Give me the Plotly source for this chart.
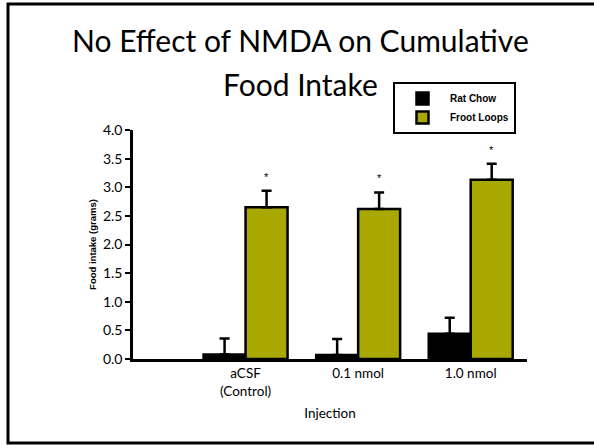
import plotly.graph_objects as go

# Data: cumulative food intake (grams), mean and SEM per injection condition
groups = ["aCSF<br>(Control)", "0.1 nmol", "1.0 nmol"]
group_pos = [1, 2, 3]
rat_chow = [0.08, 0.07, 0.44]
rat_chow_sem = [0.28, 0.28, 0.28]
froot_loops = [2.65, 2.62, 3.13]
froot_loops_sem = [0.29, 0.29, 0.28]
significant = ["*", "*", "*"]

title_lines = ["No Effect of NMDA on Cumulative", "Food Intake"]

BAR_W = 0.373
OLIVE = "#A8A800"

# Figure geometry (pixels)
W, H = 594, 445
M_L, M_R, M_T, M_B = 133, 67, 130, 86
PW, PH = W - M_L - M_R, H - M_T - M_B


def px_x(x):
    return (x - M_L) / PW


def px_y(y):
    return (H - M_B - y) / PH


fig = go.Figure()

fig.add_trace(go.Bar(
    name="Rat Chow", x=group_pos, y=rat_chow, width=BAR_W, offset=-BAR_W,
    marker=dict(color="black", line=dict(color="black", width=2.5)),
    error_y=dict(type="data", symmetric=False, array=rat_chow_sem,
                 arrayminus=[0] * len(rat_chow), color="black", thickness=2.5, width=5),
))
fig.add_trace(go.Bar(
    name="Froot Loops", x=group_pos, y=froot_loops, width=BAR_W, offset=0,
    marker=dict(color=OLIVE, line=dict(color="black", width=2.5)),
    error_y=dict(type="data", symmetric=False, array=froot_loops_sem,
                 arrayminus=[0] * len(froot_loops), color="black", thickness=2.5, width=5),
))

# Significance markers above the Froot Loops error bars
for xp, v, e, s in zip(group_pos, froot_loops, froot_loops_sem, significant):
    fig.add_annotation(x=xp + BAR_W / 2, y=v + e, text=s, showarrow=False,
                       yshift=14, font=dict(family="Arial", size=11, color="black"))

# Two-line slide title
for line, ypx in zip(title_lines, [40, 84]):
    fig.add_annotation(x=px_x(300), y=px_y(ypx), xref="paper", yref="paper",
                       xanchor="center", yanchor="middle", showarrow=False,
                       text=line, font=dict(family="Lato", size=30, color="black"))

# Slide frame (left, top and bottom edges; the right edge runs off the page)
fx0, fx1 = px_x(8), px_x(640)
fy0, fy1 = px_y(443), px_y(4)
fig.add_shape(type="path", xref="paper", yref="paper",
              path=f"M {fx1},{fy1} L {fx0},{fy1} L {fx0},{fy0} L {fx1},{fy0}",
              line=dict(color="black", width=3))

fig.update_layout(
    width=W, height=H,
    margin=dict(l=M_L, r=M_R, t=M_T, b=M_B),
    paper_bgcolor="white", plot_bgcolor="white",
    barmode="overlay",
    legend=dict(x=px_x(393), y=px_y(82), xanchor="left", yanchor="top",
                bordercolor="black", borderwidth=2, bgcolor="white",
                itemwidth=45,
                font=dict(family="Arial", size=10, color="black", weight="bold"),
                tracegroupgap=0),
    showlegend=True,
    xaxis=dict(range=[0, 3.5], tickvals=group_pos, ticktext=groups,
               showline=True, linecolor="black", linewidth=2.5,
               ticks="", showgrid=False, zeroline=False,
               tickfont=dict(family="Lato", size=13.5, color="black"),
               title=dict(text="Injection", standoff=12,
                          font=dict(family="Lato", size=13.5, color="black"))),
    yaxis=dict(range=[0, 4.0], dtick=0.5, tickformat=".1f",
               showline=True, linecolor="black", linewidth=2.5,
               ticks="outside", ticklen=5, tickwidth=2, tickcolor="black",
               showgrid=False, zeroline=False,
               tickfont=dict(family="Lato", size=14, color="black"),
               title=dict(text="Food intake (grams)", standoff=5,
                          font=dict(family="Arial", size=9.5, color="black", weight="bold"))),
)

fig.write_html(
    "out.html",
    config={"displayModeBar": False},
    post_script="document.body.style.margin='0';document.body.style.overflow='hidden';",
)
